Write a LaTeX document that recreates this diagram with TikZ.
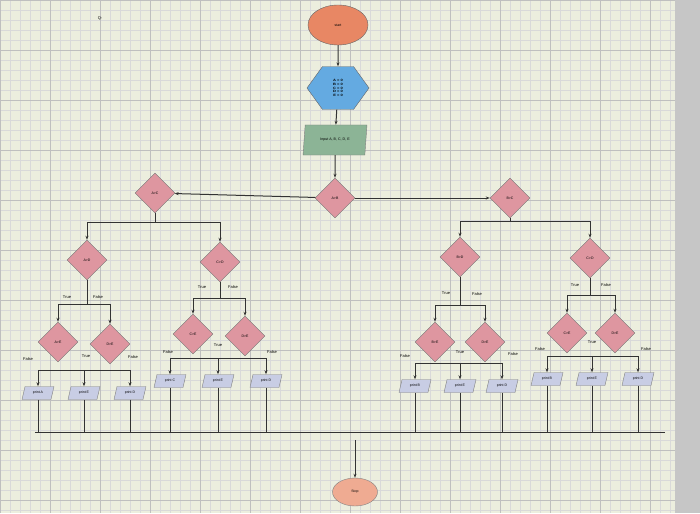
\documentclass[tikz,border=0pt]{standalone}
\usepackage{fontspec}
\setmainfont{Liberation Sans}
\usetikzlibrary{shapes.geometric,arrows.meta}
\definecolor{dfill}{RGB}{222,150,160}
\definecolor{pfill}{RGB}{200,205,228}
\definecolor{hfill}{RGB}{100,170,225}
\definecolor{ifill}{RGB}{140,180,150}
\definecolor{sfill}{RGB}{232,135,100}
\definecolor{bg}{RGB}{236,238,222}
\begin{document}
\begin{tikzpicture}[x=1pt,y=-1pt,
  dec/.style={diamond,draw=black!55,fill=dfill,minimum width=40pt,minimum height=40pt,inner sep=0pt,font=\fontsize{3.5}{4}\selectfont},
  prn/.style={trapezium,trapezium left angle=70,trapezium right angle=110,trapezium stretches=true,draw=black!50,fill=pfill,minimum width=32pt,minimum height=13pt,inner sep=0pt,font=\fontsize{3.5}{4}\selectfont},
  arr/.style={draw=black!80,line width=1pt,-{Stealth[length=4pt]}},
  ln/.style={draw=black!80,line width=1pt},
  lab/.style={font=\fontsize{4}{5}\selectfont,inner sep=0pt}]
\useasboundingbox (0,0) rectangle (700,513);
\fill[bg] (0,0) rectangle (700,513);
\draw[black!15,line width=0.3pt] (0,0) grid[step=10pt] (680,513);
\draw[black!25,line width=0.5pt] (0,0) grid[step=50pt] (680,513);
\fill[gray!45] (675,0) rectangle (700,513);
\node[lab] (q) at (100,18) {Q-};
% top chain
\node[ellipse,draw=black!60,fill=sfill,minimum width=60pt,minimum height=40pt,font=\fontsize{3.5}{4}\selectfont] (start) at (338,25) {start};
\node[regular polygon,regular polygon sides=6,draw=black!60,fill=hfill,minimum size=62pt,inner sep=0pt,font=\fontsize{4}{4.6}\selectfont\bfseries,align=center,yscale=0.8] (init) at (338,88) {A = 0\\B = 0\\C = 0\\D = 0\\E = 0};
\node[trapezium,trapezium left angle=72,trapezium right angle=108,trapezium stretches=true,draw=black!50,fill=ifill,minimum width=64pt,minimum height=30pt,inner sep=0pt,font=\fontsize{3.6}{5}\selectfont] (inp) at (335,140) {Input A, B, C, D, E};
\node[dec] (AB) at (335,198) {A>B};
\node[dec] (AC) at (155,193) {A>C};
\node[dec] (BC) at (510,198) {B>C};
\draw[arr] (start) -- (init);
\draw[arr] (init) -- (inp);
\draw[arr] (inp) -- (AB);
\draw[arr] (AB) -- (AC);
\draw[arr] (AB) -- (BC);
% second level
\node[dec] (AD) at (87,260) {A>D};
\node[dec] (CD) at (220,262) {C>D};
\node[dec] (BD) at (460,257) {B>D};
\node[dec] (CD2) at (590,258) {C>D};
\draw[arr] (AC.south) -- (AC.south |- 0,222) -| (AD.north);
\draw[arr] (AC.south) -- (AC.south |- 0,222) -| (CD.north);
\draw[arr] (BC.south) -- (BC.south |- 0,221) -| (BD.north);
\draw[arr] (BC.south) -- (BC.south |- 0,221) -| (CD2.north);
% third level
\node[dec] (AE) at (58,342) {A>E};
\node[dec] (DE1) at (110,344) {D>E};
\node[dec] (CE) at (193,334) {C>E};
\node[dec] (DE2) at (245,336) {D>E};
\node[dec] (BE) at (435,342) {B>E};
\node[dec] (DE3) at (485,342) {D>E};
\node[dec] (CE2) at (567,333) {C>E};
\node[dec] (DE4) at (615,333) {D>E};
\draw[arr] (AD.south) -- (AD.south |- 0,304) -| (AE.north);
\draw[arr] (AD.south) -- (AD.south |- 0,304) -| (DE1.north);
\draw[arr] (CD.south) -- (CD.south |- 0,298) -| (CE.north);
\draw[arr] (CD.south) -- (CD.south |- 0,298) -| (DE2.north);
\draw[arr] (BD.south) -- (BD.south |- 0,305) -| (BE.north);
\draw[arr] (BD.south) -- (BD.south |- 0,305) -| (DE3.north);
\draw[arr] (CD2.south) -- (CD2.south |- 0,295) -| (CE2.north);
\draw[arr] (CD2.south) -- (CD2.south |- 0,295) -| (DE4.north);
% prints
\node[prn] (p1) at (38,393) {print A};
\node[prn] (p2) at (84,393) {print E};
\node[prn] (p3) at (130,393) {print D};
\node[prn] (p4) at (170,381) {print C};
\node[prn] (p5) at (218,381) {print E};
\node[prn] (p6) at (266,381) {print D};
\node[prn] (p7) at (415,386) {print B};
\node[prn] (p8) at (460,386) {print E};
\node[prn] (p9) at (502,386) {print D};
\node[prn] (p10) at (547,379) {print B};
\node[prn] (p11) at (592,379) {print E};
\node[prn] (p12) at (638,379) {print D};
\coordinate (j1) at (84,370);
\coordinate (j2) at (218,358);
\coordinate (j3) at (460,363);
\coordinate (j4) at (592,356);
\draw[ln] (p1.north |- j1) -- (p3.north |- j1);
\draw[ln] (p4.north |- j2) -- (p6.north |- j2);
\draw[ln] (p7.north |- j3) -- (p9.north |- j3);
\draw[ln] (p10.north |- j4) -- (p12.north |- j4);
\foreach \p/\j in {p1/j1,p2/j1,p3/j1,p4/j2,p5/j2,p6/j2,p7/j3,p8/j3,p9/j3,p10/j4,p11/j4,p12/j4}
  \draw[arr] (\p.north |- \j) -- (\p.north);
% bottom
\coordinate (bl) at (35,432);
\coordinate (br) at (665,432);
\draw[ln] (bl) -- (br);
\foreach \p in {p1,p2,p3,p4,p5,p6,p7,p8,p9,p10,p11,p12}
  \draw[ln] (\p.south) -- (\p.south |- bl);
\node[ellipse,draw=black!50,fill=sfill!70!white,minimum width=45pt,minimum height=28pt,font=\fontsize{3.5}{4}\selectfont] (stop) at (355,492) {Stop};
\draw[arr] (355,440) -- (stop.north);
% labels
\node[lab] at (67,297) {True}; \node[lab] at (98,297) {False};
\node[lab] at (28,359) {False}; \node[lab] at (86,356) {True}; \node[lab] at (133,357) {False};
\node[lab] at (202,287) {True}; \node[lab] at (233,287) {False};
\node[lab] at (168,352) {False}; \node[lab] at (218,345) {True}; \node[lab] at (272,352) {False};
\node[lab] at (446,293) {True}; \node[lab] at (477,294) {False};
\node[lab] at (405,356) {False}; \node[lab] at (460,352) {True}; \node[lab] at (513,354) {False};
\node[lab] at (575,285) {True}; \node[lab] at (606,285) {False};
\node[lab] at (540,349) {False}; \node[lab] at (592,342) {True}; \node[lab] at (646,349) {False};
\end{tikzpicture}
\end{document}
